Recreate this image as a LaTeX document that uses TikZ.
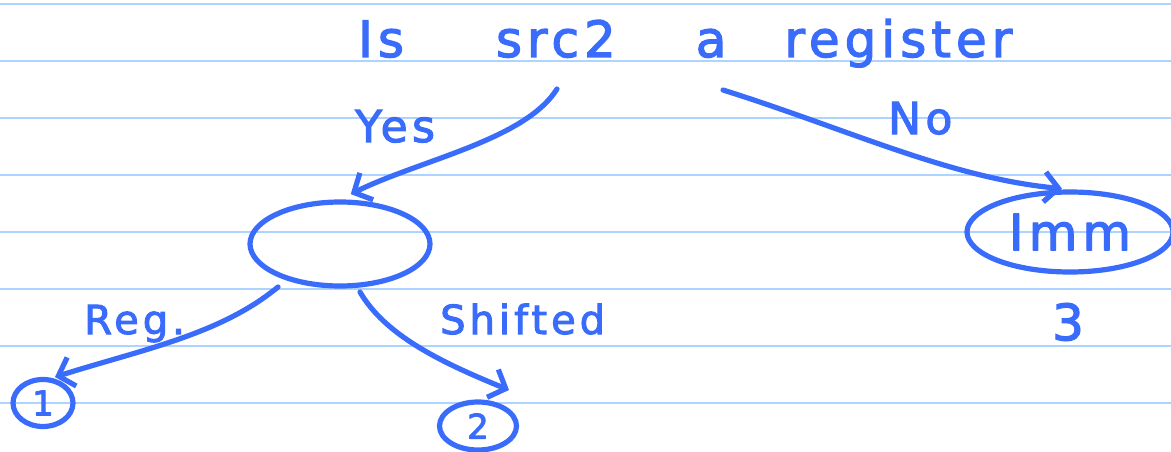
\documentclass[tikz,border=0pt]{standalone}
\usepackage{fontspec}
\newfontfamily\hand[LetterSpace=10,FakeBold=2.5]{DejaVu Sans}
\usetikzlibrary{shapes.geometric,arrows.meta}
\definecolor{inkc}{RGB}{58,108,252}
\definecolor{rulec}{RGB}{172,212,255}
\begin{document}
\begin{tikzpicture}[x=1pt,y=-1pt,
  pen/.style={draw=inkc, line width=5.2pt, line cap=round, line join=round},
  txt/.style={text=inkc, font=\hand\fontsize{#1}{#1}\selectfont, inner sep=0pt},
  arr/.style={pen, -{Straight Barb[length=14pt,width=30pt,line width=5.2pt]}},
  bub/.style={pen, ellipse, inner sep=0pt},
  ruled/.style={draw=rulec, line width=2.2pt}]
\useasboundingbox[fill=white] (0,0) rectangle (1171,452);
\foreach \yy in {4,61,...,403} \draw[ruled] (0,\yy) -- (1171,\yy);

% title
\node[txt=50, anchor=base west] (title) at (358,57) {Is\hspace{92pt}src2\hspace{80pt}a\hspace{58pt}register};

% nodes
\node[bub, minimum width=180pt, minimum height=84pt] (q) at (340,244) {};
\node[bub, minimum width=206pt, minimum height=80pt, txt=50] (imm) at (1070,232) {Imm};
\node[bub, minimum width=60pt, minimum height=47pt, txt=34] (one) at (43,403) {1};
\node[bub, minimum width=77pt, minimum height=48pt, txt=34] (two) at (478,426) {2};
\node[txt=50] (three) at (1068,322) {3};

% labels
\node[txt=44, anchor=base west] (yes) at (355,142) {Yes};
\node[txt=44, anchor=base west] (no) at (888,134) {No};
\node[txt=40, anchor=base west] (reg) at (84,334) {Reg.};
\node[txt=40, anchor=base west] (shf) at (440,334) {Shifted};

% connector end points
\coordinate (ys) at (557,89);
\coordinate (ns) at (723,90);
\coordinate (rs) at (278,287);
\coordinate (ss) at (360,292);
\coordinate (t2) at (509,390);

% connectors
\draw[arr, shorten >=12pt] (ys) .. controls (525,140) and (420,160) .. (q.north);
\draw[arr, shorten >=8pt] (ns) .. controls (850,130) and (950,178) .. (imm.north);
\draw[arr, shorten >=3pt] (rs) .. controls (220,335) and (140,350) .. (one.70);
\draw[arr] (ss) .. controls (385,335) and (440,362) .. (t2);
\end{tikzpicture}
\end{document}
